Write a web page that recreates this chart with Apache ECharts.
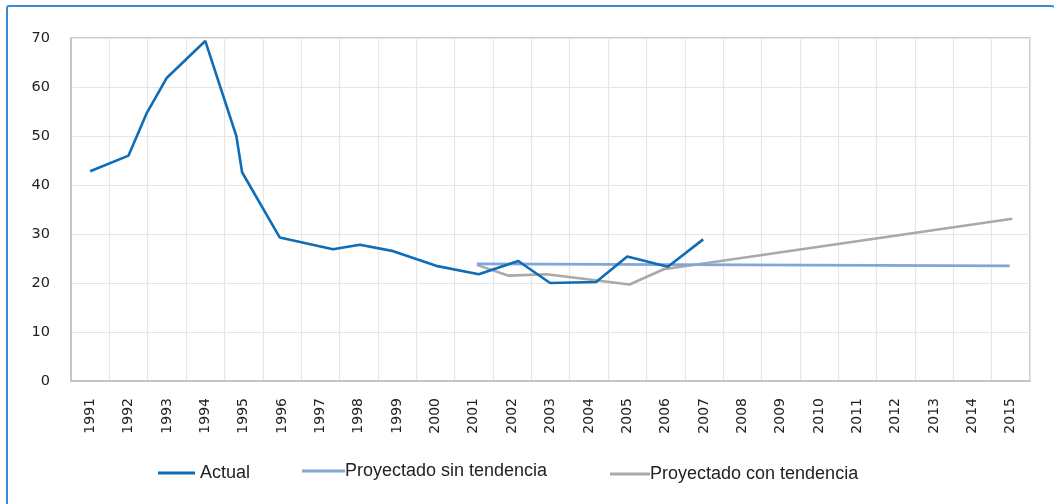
<!DOCTYPE html>
<html>
<head>
<meta charset="utf-8">
<script src="https://cdn.jsdelivr.net/npm/echarts@6/dist/echarts.min.js"></script>
<style>
html,body{margin:0;padding:0;background:#fff;}
#c{width:1054px;height:504px;}
</style>
</head>
<body>
<div id="c"></div>
<script>
var years = ['1991','1992','1993','1994','1995','1996','1997','1998','1999','2000','2001','2002','2003','2004','2005','2006','2007','2008','2009','2010','2011','2012','2013','2014','2015'];
var yTicks = [0, 10, 20, 30, 40, 50, 60, 70];
var actualX = [1991, 1992, 1992.47, 1993, 1994, 1994.81, 1994.96, 1995.94, 1997.33, 1998.03, 1998.9, 2000.02, 2001.13, 2002.16, 2002.99, 2004.19, 2005.0, 2006.06, 2006.98];
var actualY = [42.8, 46.0, 54.6, 61.9, 69.4, 50.0, 42.6, 29.3, 26.9, 27.8, 26.5, 23.5, 21.8, 24.5, 20.0, 20.2, 25.4, 23.3, 28.9];
var sinX = [2001.08, 2014.97];
var sinY = [23.9, 23.5];
var conX = [2001.08, 2001.91, 2002.9, 2005.06, 2005.95, 2015.04];
var conY = [23.7, 21.5, 21.8, 19.7, 22.8, 33.1];

function pairs(xs, ys){ return xs.map(function(x,i){ return [x, ys[i]]; }); }

var chart = echarts.init(document.getElementById('c'));
var legendText = {fontFamily:'Liberation Sans', fontSize:18, color:'#222'};
chart.setOption({
  animation:false,
  backgroundColor:'#fff',
  graphic:[{
    type:'rect', silent:true,
    shape:{x:7, y:6, width:1052, height:504, r:[2,8,8,8]},
    style:{fill:'none', stroke:'#3a8ad4', lineWidth:2}
  }],
  grid:{left:71, top:38, right:24, bottom:123, show:true, borderColor:'#bdbdbd', borderWidth:1.5, backgroundColor:'transparent'},
  legend:[
    {data:['Actual'], left:153, top:459, itemWidth:37, itemHeight:14, itemGap:0, textStyle:legendText, icon:'path://M0,5.5L37,5.5L37,8.5L0,8.5Z'},
    {data:['Proyectado sin tendencia'], left:297, top:457, itemWidth:43, itemHeight:14, textStyle:Object.assign({padding:[0,0,0,-5]}, legendText), icon:'path://M0,5.5L43,5.5L43,8.5L0,8.5Z'},
    {data:['Proyectado con tendencia'], left:605, top:460, itemWidth:40, itemHeight:14, textStyle:Object.assign({padding:[0,0,0,-5]}, legendText), icon:'path://M0,5.5L40,5.5L40,8.5L0,8.5Z'}
  ],
  xAxis:[
    {type:'category', data:years, boundaryGap:true,
      axisLine:{show:true, lineStyle:{color:'#bdbdbd', width:1.5}},
      axisTick:{show:false},
      axisLabel:{rotate:90, margin:17, fontFamily:'DejaVu Sans', fontSize:14, color:'#222', interval:0},
      splitLine:{show:true, interval:0, lineStyle:{color:'#e6e6e6', width:1.2}}
    },
    {type:'value', min:1990.5, max:2015.5, show:false}
  ],
  yAxis:{type:'value', min:yTicks[0], max:yTicks[yTicks.length-1], interval:10,
    axisLine:{show:true, lineStyle:{color:'#bdbdbd', width:1.5}},
    axisTick:{show:false},
    axisLabel:{margin:21, fontFamily:'DejaVu Sans', fontSize:14.5, color:'#222'},
    splitLine:{show:true, lineStyle:{color:'#e6e6e6', width:1.2}}
  },
  series:[
    {name:'Actual', type:'line', xAxisIndex:1, data:pairs(actualX, actualY), showSymbol:false, symbol:'none',
      lineStyle:{color:'#0f6cb6', width:2.6}, itemStyle:{color:'#0f6cb6'}, z:4},
    {name:'Proyectado sin tendencia', type:'line', xAxisIndex:1, data:pairs(sinX, sinY), showSymbol:false, symbol:'none',
      lineStyle:{color:'#80a6da', width:2.6}, itemStyle:{color:'#80a6da'}, z:3},
    {name:'Proyectado con tendencia', type:'line', xAxisIndex:1, data:pairs(conX, conY), showSymbol:false, symbol:'none',
      lineStyle:{color:'#a9a9a9', width:2.6}, itemStyle:{color:'#a9a9a9'}, z:2}
  ]
});
</script>
</body>
</html>
